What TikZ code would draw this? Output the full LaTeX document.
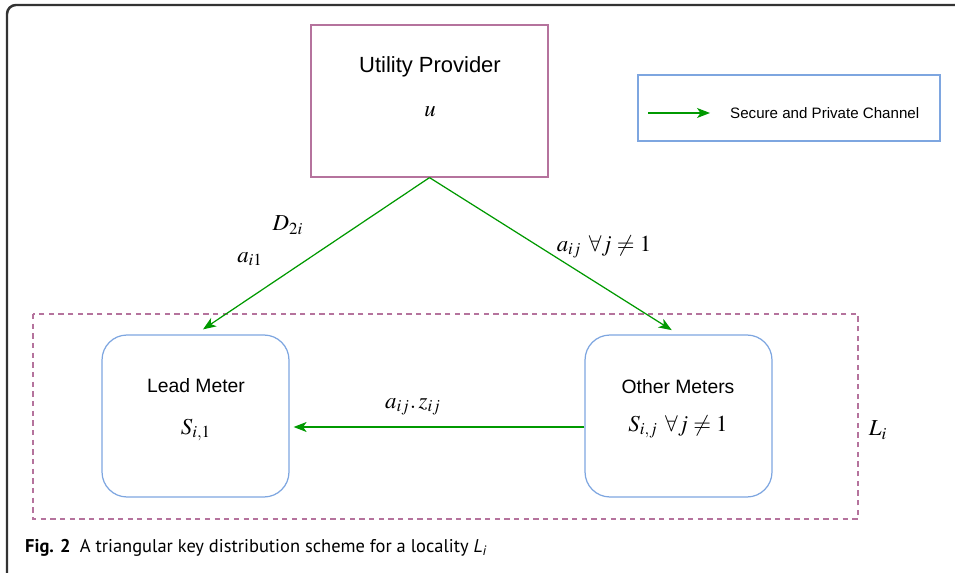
\documentclass[tikz,border=0pt]{standalone}
\usepackage{mathptmx}
\usepackage{fontspec}
\setsansfont{Liberation Sans}
\newfontfamily\capfont{PT Sans}
\usetikzlibrary{arrows.meta}
\definecolor{provpink}{HTML}{B5739D}
\definecolor{meterblue}{HTML}{7EA6E0}
\definecolor{chgreen}{HTML}{009900}
\definecolor{framegray}{HTML}{333333}
\tikzset{
  channel/.style={chgreen, line width=0.7pt, -{Stealth[length=0.26cm,width=0.2cm,inset=0.07cm]}},
  meterbox/.style={draw=meterblue, line width=0.7pt, rounded corners=0.5cm, minimum width=3.74cm, minimum height=3.24cm},
  boxtext/.style={font=\sffamily\fontsize{11}{13}\selectfont},
  mathtext/.style={font=\fontsize{13}{15}\selectfont}
}
\begin{document}
\begin{tikzpicture}[x=0.02cm,y=-0.02cm]
            \useasboundingbox (0,0) rectangle (955,573);
            \clip (0,0) rectangle (955,573);
            % outer figure frame, runs off the right and bottom edges
            \draw[framegray, line width=1.4pt, rounded corners=0.18cm] (7,5) rectangle (990,600);
            % utility provider
            \node[draw=provpink, line width=0.7pt, minimum width=4.74cm, minimum height=3.04cm] (prov) at (429.5,101) {};
            \node[font=\sffamily\fontsize{12.5}{14}\selectfont] (provname) at (430,67) {Utility Provider};
            \node[mathtext] (provsym) at (430,112) {$u$};
            % legend
            \node[draw=meterblue, line width=0.7pt, minimum width=6.04cm, minimum height=1.32cm] (legend) at (789,108) {};
            \coordinate (legfrom) at (648,113);
            \coordinate (legto) at (710,113);
            \draw[channel] (legfrom) -- (legto);
            \node[font=\sffamily\fontsize{8.6}{10}\selectfont, anchor=west] (legname) at (724,113) {Secure and Private Channel};
            % the locality L_i
            \draw[provpink, line width=0.7pt, dash pattern=on 3pt off 2.5pt] (33,314) rectangle (858,519);
            \node[mathtext] (loc) at (878,430) {$L_i$};
            % meters
            \node[meterbox] (lead) at (195.5,416) {};
            \node[meterbox] (other) at (678.5,416) {};
            \node[boxtext] (leadname) at (196,386) {Lead Meter};
            \node[mathtext] (leadsym) at (196,430) {$S_{i,1}$};
            \node[boxtext] (othername) at (678,387) {Other Meters};
            \node[mathtext] (othersym) at (678,427) {$S_{i,j}\ \forall j \neq 1$};
            % key distribution channels
            \draw[channel, shorten >=0.18cm] (prov.south) -- (lead.north);
            \draw[channel, shorten >=0.16cm] (prov.south) -- (other.north);
            \draw[channel, shorten >=0.08cm] ([yshift=-0.22cm]other.west) -- ([yshift=-0.22cm]lead.east);
            \node[mathtext] (dlab) at (288,225) {$D_{2i}$};
            \node[mathtext] (alab) at (250,259) {$a_{i1}$};
            \node[mathtext] (ajlab) at (604,247) {$a_{ij}\ \forall j \neq 1$};
            \node[mathtext] (azlab) at (413,407) {$a_{ij}.\, z_{ij}$};
            % caption
            \node[anchor=west, font=\capfont\fontsize{10.5}{12}\selectfont] (cap) at (19,548) {\textbf{Fig. 2}\enspace A triangular key distribution scheme for a locality {\itshape L\textsubscript{i}}};
        \end{tikzpicture}
\end{document}
